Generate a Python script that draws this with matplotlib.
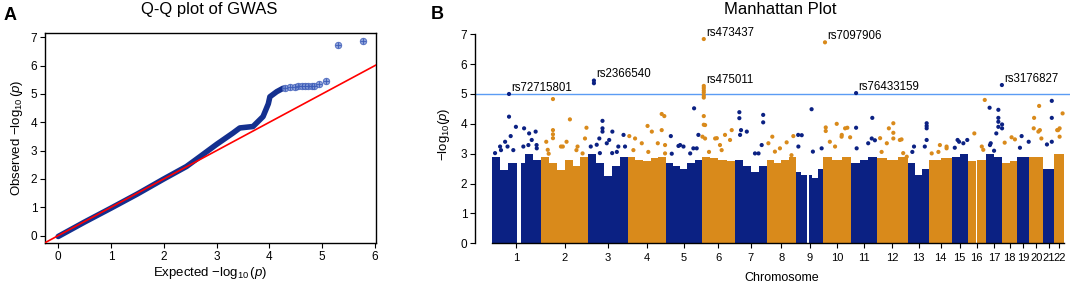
import numpy as np
import matplotlib
matplotlib.use("Agg")
import matplotlib.pyplot as plt

plt.rcParams['font.family'] = ['Liberation Sans', 'DejaVu Sans']
plt.rcParams['mathtext.fontset'] = 'custom'
plt.rcParams['mathtext.rm'] = 'Liberation Sans'
plt.rcParams['mathtext.it'] = 'Liberation Sans:italic'

# =============================
# Q-Q DATA
# =============================

qq_expected = [0.0, 0.5, 1.0, 1.5, 2.0, 2.43, 2.68, 3.0, 3.31, 3.44, 3.69,
               3.88, 3.98, 4.01, 4.14, 4.26]
qq_observed = [-0.03, 0.48, 0.97, 1.47, 2.0, 2.44, 2.78, 3.22, 3.62, 3.8, 3.85,
               4.2, 4.65, 4.9, 5.08, 5.2]
qq_tail_expected = [4.29, 4.39, 4.48, 4.55, 4.61, 4.67, 4.73, 4.8, 4.84, 4.94,
                    5.08, 5.30, 5.78]
qq_tail_observed = [5.21, 5.23, 5.25, 5.27, 5.28, 5.28, 5.27, 5.27, 5.28, 5.35,
                    5.45, 6.74, 6.86]

# =============================
# MANHATTAN DATA
# =============================

chromosomes = [str(i) for i in range(1, 23)]
chrom_len = [265, 254, 212, 204, 193, 179, 170, 157, 147, 147, 143,
             163, 117, 119, 86, 97, 89, 81, 63, 77, 58, 55]

# upper edge of the dense cloud of SNPs, in equal bins along each chromosome
cloud_top = [
    [2.9, 2.45, 2.7, 2.7, 3.0, 2.8],
    [2.9, 2.7, 2.45, 2.8, 2.6, 2.9],
    [3.0, 2.7, 2.25, 2.6, 2.9],
    [2.9, 2.8, 2.75, 2.85, 2.9],
    [2.7, 2.6, 2.5, 2.7, 2.8],
    [2.9, 2.85, 2.8, 2.75],
    [2.8, 2.6, 2.4, 2.6],
    [2.8, 2.7, 2.8, 2.9],
    [2.4, 2.3, 2.3, 2.2, 2.5],
    [2.9, 2.8, 2.9],
    [2.7, 2.8, 2.9],
    [2.85, 2.8, 2.9],
    [2.7, 2.3, 2.5],
    [2.8, 2.85],
    [2.9, 3.0],
    [2.75, 2.8],
    [3.0, 2.9],
    [2.7, 2.75],
    [2.9],
    [2.9],
    [2.5],
    [3.0],
]

gap_chr = [1, 9, 16]
gap_start = [138, 59, 44]
gap_end = [156, 69, 48]

snp_chr = ([1] * 17 + [2] * 16 + [3] * 16 + [4] * 13 + [5] * 10 + [6] * 18
           + [7] * 10 + [8] * 7 + [9] * 6 + [10] * 10 + [11] * 6 + [12] * 11
           + [13] * 7 + [14] * 5 + [15] * 5 + [16] * 4 + [17] * 11 + [18] * 3
           + [19] * 3 + [20] * 6 + [21] * 4 + [22] * 5)
snp_pos = [93, 130, 102, 72, 85, 50, 174, 201, 236, 215, 241, 170, 45, 116, 197, 242, 18,
           64, 155, 244, 64, 64, 64, 137, 107, 236, 28, 41, 190, 117, 196, 223, 36,
           30, 76, 76, 76, 59, 112, 13, 153, 189, 161, 129, 99, 45, 62, 128, 197,
           182, 196, 106, 182, 8, 39, 129, 161, 200, 110, 75, 30, 200,
           152, 27, 68, 95, 131, 166, 77, 32, 175, 148,
           11, 11, 11, 11, 11, 11, 11, 4, 18, 72, 161, 125, 39, 107, 152, 81, 98, 18,
           23, 23, 32, 151, 151, 107, 143, 63, 27, 126,
           30, 143, 107, 71, 44, 133, 9,
           31, 84, 138, 13, 12, 91,
           13, 13, 72, 129, 98, 144, 35, 63, 99, 117,
           29, 116, 113, 130, 94, 32,
           62, 86, 86, 86, 130, 51, 158, 23, 15, 121, 139,
           102, 102, 102, 102, 92, 34, 25,
           92, 92, 12, 48, 56,
           32, 40, 84, 63, 17,
           92, 36, 76, 84,
           21, 68, 68, 68, 68, 57, 27, 88, 88, 45, 23,
           13, 50, 68,
           23, 61, 14,
           54, 27, 25, 58, 66, 50,
           45, 45, 45, 19,
           45, 29, 21, 29, 16]
snp_logp = [4.24, 3.9, 3.59, 3.4, 3.24, 3.12, 3.85, 3.68, 3.74, 3.46, 3.29, 3.24, 3.24, 3.12, 3.29, 3.18, 3.02,
            4.83, 4.15, 3.87, 3.79, 3.65, 3.52, 3.4, 3.24, 3.51, 3.4, 3.0, 3.12, 3.24, 3.24, 3.01, 3.13,
            5.36, 4.1, 3.85, 3.74, 3.51, 3.46, 3.24, 3.06, 3.63, 3.24, 3.74, 3.35, 3.3, 3.02, 3.02, 3.24,
            4.33, 4.26, 3.93, 3.79, 3.59, 3.51, 3.74, 3.35, 3.29, 3.06, 3.35, 3.12, 3.01,
            4.52, 3.59, 3.26, 3.24, 3.01, 3.18, 3.29, 3.0, 3.63, 3.18,
            5.2, 5.12, 5.05, 4.95, 4.88, 4.26, 3.97, 3.57, 3.51, 3.51, 3.79, 3.63,
            3.06, 3.12, 3.46, 3.52, 3.29, 3.96,
            4.39, 4.19, 3.79, 4.3, 4.05, 3.01, 3.29, 3.74, 3.63, 3.01,
            3.57, 3.59, 3.38, 3.18, 3.07, 2.95, 3.35,
            3.62, 4.49, 3.18, 3.24, 3.63, 3.07,
            3.88, 3.76, 4.0, 3.87, 3.57, 3.55, 3.4, 3.24, 3.63, 3.85,
            3.87, 4.2, 3.51, 3.45, 3.35, 3.18,
            3.85, 4.02, 3.7, 3.51, 3.48, 3.35, 2.9, 3.06, 3.52, 3.46, 3.02,
            4.02, 3.93, 3.85, 3.46, 3.24, 3.24, 3.06,
            3.24, 3.18, 3.01, 3.06, 3.29,
            3.46, 3.4, 3.46, 3.35, 3.2,
            4.8, 3.68, 3.24, 3.13,
            4.54, 4.47, 4.2, 4.07, 3.9, 3.68, 3.35, 3.98, 3.85, 3.1, 3.29,
            3.37, 3.55, 3.48,
            3.59, 3.4, 3.2,
            4.6, 4.2, 3.85, 3.79, 3.51, 3.74,
            4.77, 4.2, 3.4, 3.31,
            4.35, 3.85, 3.79, 3.57, 3.79]

top_ids = ["rs72715801", "rs2366540", "rs473437", "rs475011",
           "rs7097906", "rs76433159", "rs3176827"]
top_chr = [1, 3, 6, 6, 10, 11, 17]
top_pos = [93, 30, 11, 11, 9, 29, 87]
top_logp = [5.00, 5.45, 6.84, 5.27, 6.73, 5.03, 5.30]

threshold = 5

NAVY = "#0b2183"
ORANGE = "#d98a1b"

# =============================
# FIGURE
# =============================

fig = plt.figure(figsize=(10.72, 2.83), dpi=100)
W, H = 1072, 283


def px_axes(left, top, right, bottom):
    return fig.add_axes([left / W, 1 - bottom / H, (right - left) / W, (bottom - top) / H])


# ---- Panel A: Q-Q ----
ax1 = px_axes(45, 33, 376, 243)
ax1.set_xlim(-0.25, 6.02)
ax1.set_ylim(-0.26, 7.15)
ax1.plot(qq_expected, qq_observed, color="#14308f", lw=4.0,
         solid_capstyle="round", solid_joinstyle="round", zorder=2)
ax1.scatter(qq_tail_expected, qq_tail_observed, s=22, facecolor="#7890d2",
            edgecolor="#3d5cb8", lw=0.6, alpha=0.85, zorder=3)
ax1.scatter(qq_tail_expected, qq_tail_observed, s=22, marker="+",
            color="#3d5cb8", lw=0.6, zorder=4)
ax1.plot([-0.25, 6.02], [-0.25, 6.02], color="red", lw=1.2, zorder=5)
ax1.set_xticks(range(0, 7))
ax1.set_yticks(range(0, 8))
ax1.tick_params(labelsize=8.5, length=3.5, width=0.8, pad=2)
for s in ax1.spines.values():
    s.set_linewidth(1.0)
ax1.set_xlabel(r"Expected $-\log_{10}(p)$", fontsize=9.5, labelpad=2)
ax1.set_ylabel(r"Observed $-\log_{10}(p)$", fontsize=9.5, labelpad=4)

fig.text(209 / W, 1 - 14 / H, "Q-Q plot of GWAS", fontsize=12, ha="center", va="baseline")
fig.text(4 / W, 1 - 20 / H, "A", fontsize=13, fontweight="bold", ha="left", va="baseline")

# ---- Panel B: Manhattan ----
ax2 = px_axes(475, 25.3, 1070, 243.3)
starts = np.concatenate([[0], np.cumsum(chrom_len)[:-1]])
total = float(np.sum(chrom_len))
centers = starts + np.array(chrom_len) / 2.0

for i, L in enumerate(chrom_len):
    c = NAVY if i % 2 == 0 else ORANGE
    tops = cloud_top[i]
    edges = starts[i] + np.linspace(0, L, len(tops) + 1)
    ax2.bar(edges[:-1], tops, width=np.diff(edges), align="edge",
            color=c, lw=0, zorder=2)

for gc, gs, ge in zip(gap_chr, gap_start, gap_end):
    ax2.bar(starts[gc - 1] + gs, 3.1, width=ge - gs, align="edge",
            color="white", lw=0, zorder=2.5)

sx = [starts[c - 1] + p for c, p in zip(snp_chr, snp_pos)]
sc = [NAVY if c % 2 == 1 else ORANGE for c in snp_chr]
ax2.scatter(sx, snp_logp, s=9, c=sc, lw=0, zorder=3)

tx = [starts[c - 1] + p for c, p in zip(top_chr, top_pos)]
tc = [NAVY if c % 2 == 1 else ORANGE for c in top_chr]
ax2.scatter(tx, top_logp, s=9, c=tc, lw=0, zorder=3)
for name, x, y in zip(top_ids, tx, top_logp):
    ax2.annotate(name, (x, y), xytext=(1.5, 0.3), textcoords="offset points",
                 fontsize=8.3, ha="left", va="bottom")

ax2.axhline(threshold, color="#5b9cf4", lw=1.0, zorder=1)

ax2.set_xlim((475 - 491.7) / 0.1862, (1070 - 491.7) / 0.1862)
ax2.set_ylim(0, 7.3)
ax2.spines["top"].set_visible(False)
ax2.spines["right"].set_visible(False)
ax2.spines["left"].set_bounds(0, 7)
ax2.spines["bottom"].set_bounds(0, total)
ax2.spines["left"].set_linewidth(1.0)
ax2.spines["bottom"].set_linewidth(1.0)
ax2.set_yticks(range(0, 8))
ax2.set_xticks(centers)
ax2.set_xticklabels(chromosomes)
ax2.tick_params(axis="y", labelsize=8.5, length=3.5, width=0.8, pad=2)
ax2.tick_params(axis="x", labelsize=8, length=3.5, width=0.8, pad=3.5)
ax2.set_ylabel(r"$\mathrm{-log}_{10}(p)$", fontsize=9.5, labelpad=6)
ax2.set_xlabel("Chromosome", fontsize=9)
ax2.xaxis.set_label_coords((781.5 - 475) / 595, -0.13)

fig.text(780 / W, 1 - 13.5 / H, "Manhattan Plot", fontsize=12, ha="center", va="baseline")
fig.text(431 / W, 1 - 19 / H, "B", fontsize=13, fontweight="bold", ha="left", va="baseline")

fig.savefig("out.png", dpi=100)
